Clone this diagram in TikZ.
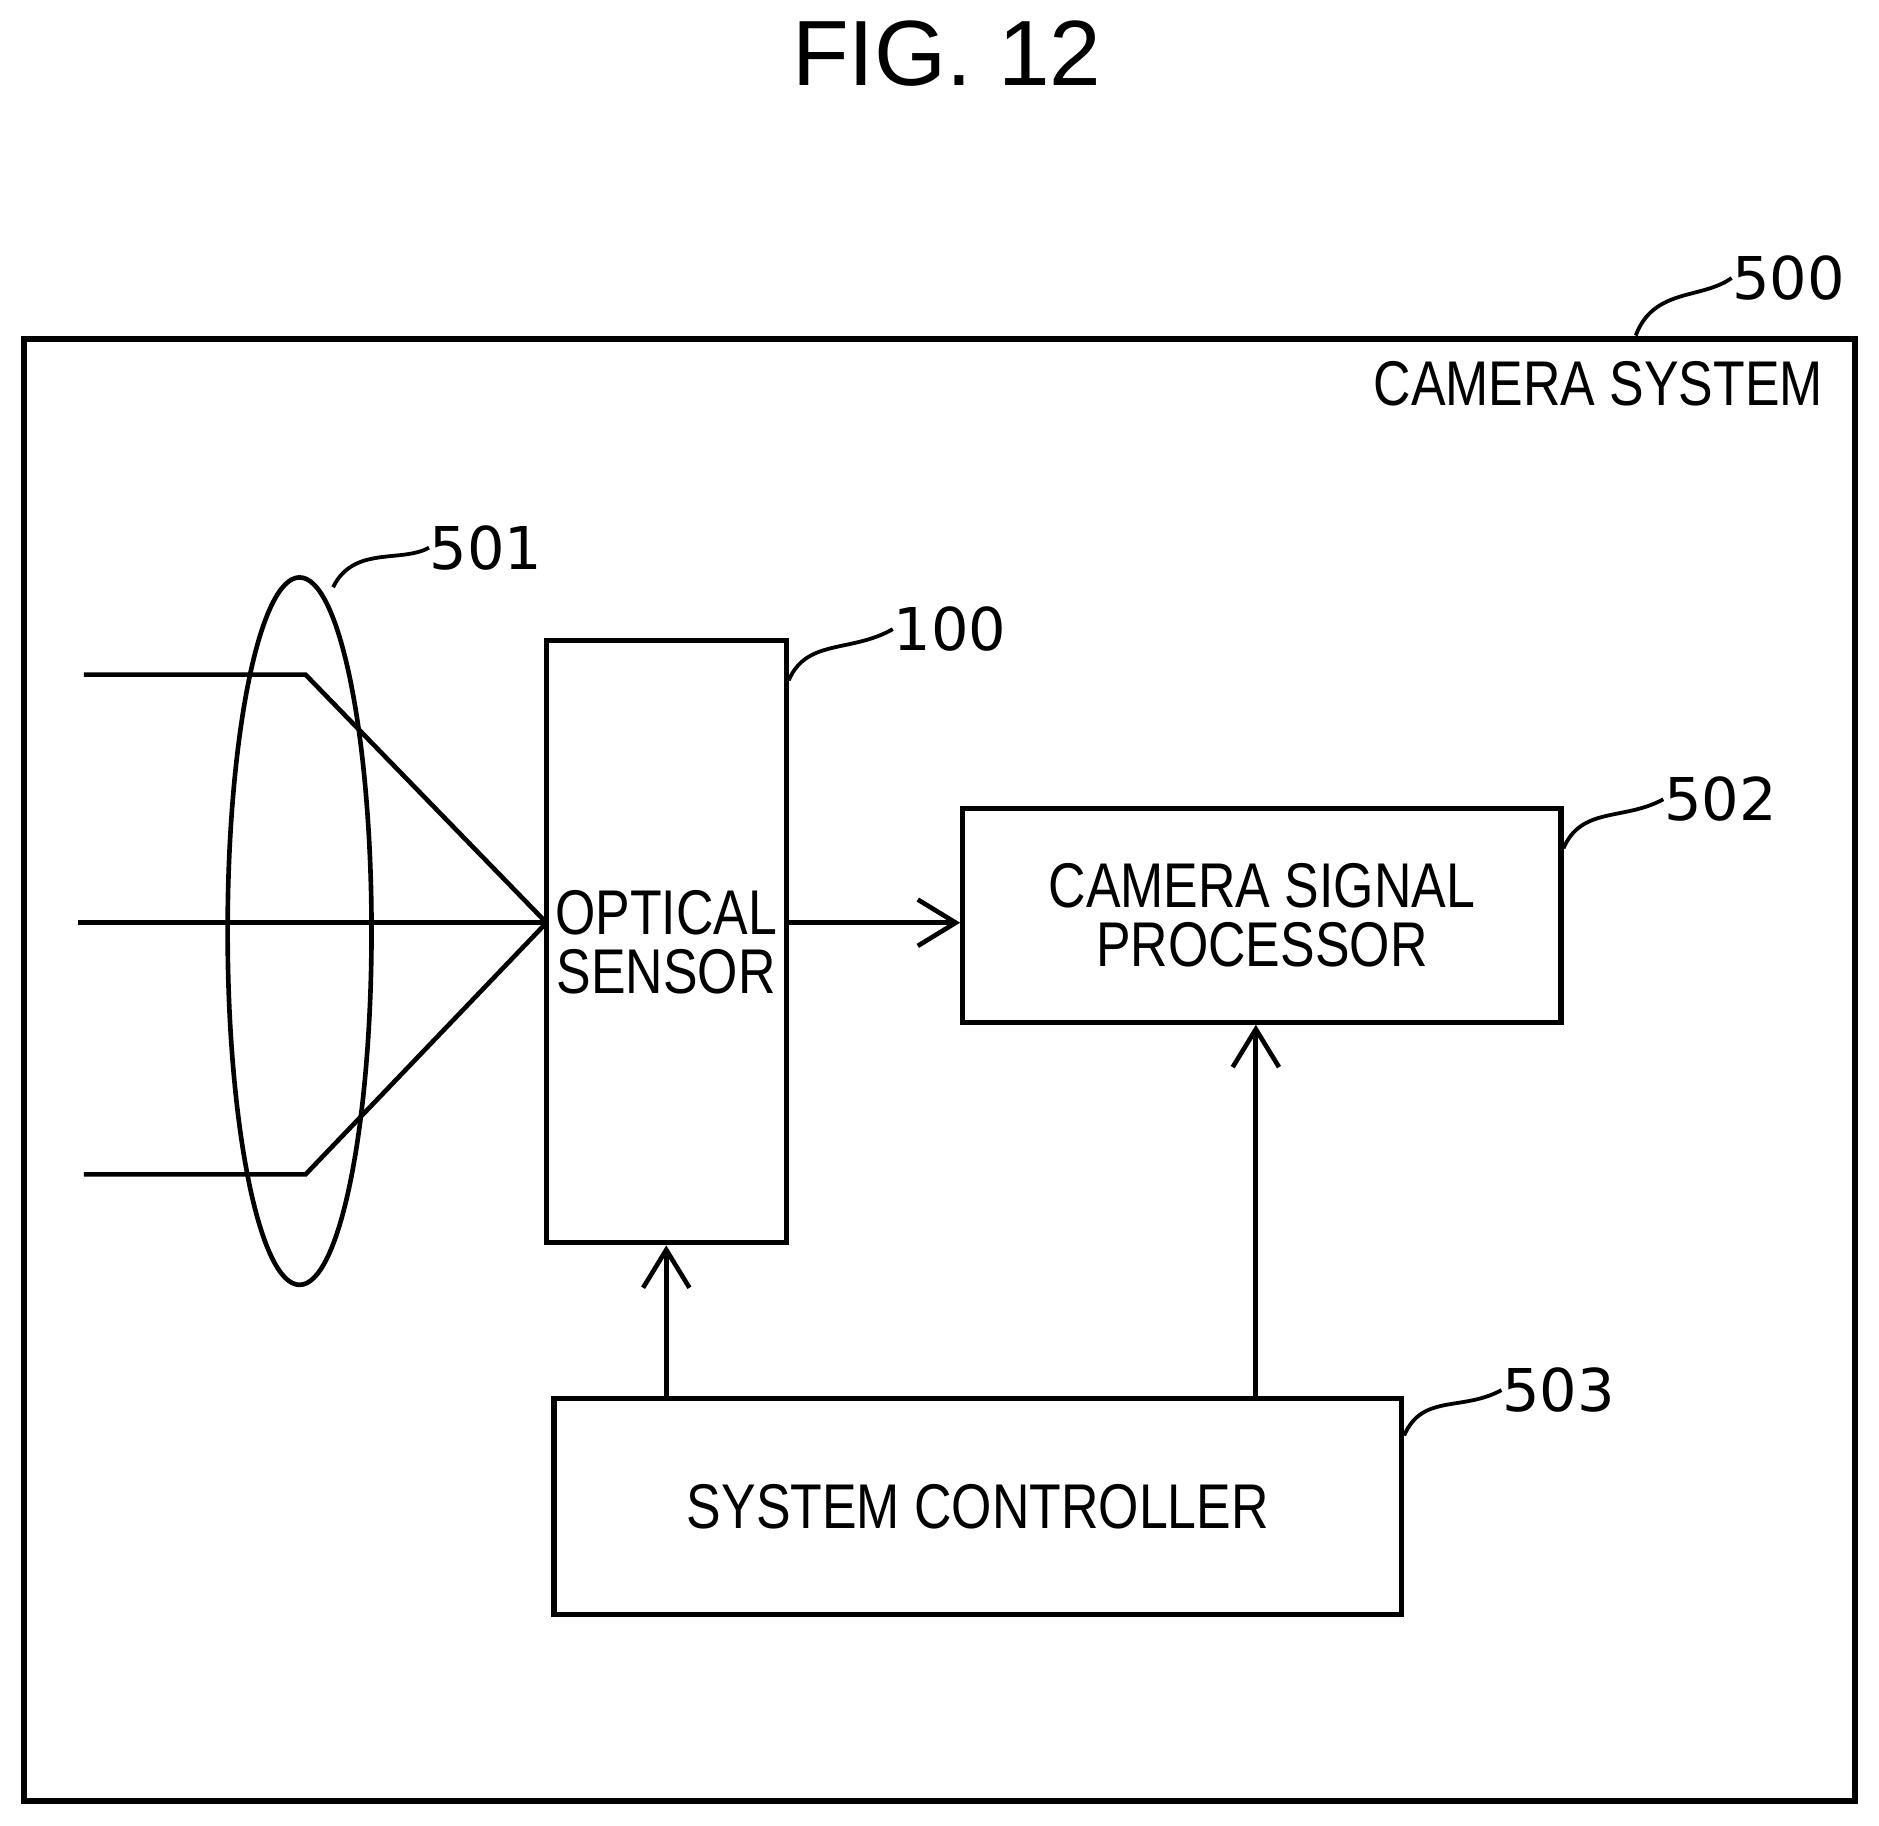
\documentclass[tikz,border=0pt]{standalone}
\usepackage{fontspec}
\setmainfont{Liberation Sans}
\newfontfamily\narrowfont{Liberation Sans}[FakeStretch=0.82]
\newfontfamily\numfont{DejaVu Sans}
\usetikzlibrary{arrows.meta,shapes.geometric}
\tikzset{
  blk/.style={draw, line width=1.2pt, inner sep=0pt, align=center, font=\narrowfont\fontsize{15}{17}\selectfont},
  sig/.style={line width=1.2pt, -{Straight Barb[length=9pt,width=11pt,line width=1.1pt]}},
  ray/.style={line width=1.1pt},
  lead/.style={line width=0.9pt},
  num/.style={font=\numfont\fontsize{14}{16}\selectfont, anchor=west, inner sep=0pt}
}
\begin{document}
\begin{tikzpicture}[x=0.01cm,y=-0.01cm]
    \useasboundingbox (0,0) rectangle (1568,1523);
    \node[font=\fontsize{22}{26}\selectfont] (title) at (790,45) {FIG. 12};

    % outer frame
    \draw[line width=1.5pt] (20,283) rectangle (1548,1503);
    \node[anchor=east, inner sep=0pt, font=\narrowfont\fontsize{15}{17}\selectfont] (sysname) at (1522,320) {CAMERA SYSTEM};
    \node[num] (n500) at (1445,232) {500};
    \draw[lead] (1365,280) .. controls (1380,240) and (1420,250) .. (n500.west);

    % lens and rays
    \node[draw, ellipse, line width=1.1pt, minimum width=1.2cm, minimum height=5.9cm, inner sep=0pt] (lens) at (250,777) {};
    \node[num] (n501) at (358,457) {501};
    \draw[lead] (278,490) .. controls (295,455) and (335,470) .. (n501.west);

    \node[blk, minimum width=2cm, minimum height=5.02cm] (sensor) at (556,786) {OPTICAL\\[-3pt]SENSOR};
    \coordinate (focus) at (456,770);
    \draw[ray] (70,563) -- (255,563) -- (focus);
    \draw[ray] (65,770) -- (focus);
    \draw[ray] (70,980) -- (255,980) -- (focus);
    \node[num] (n100) at (745,525) {100};
    \draw[lead] (sensor.north east) ++(0,35) .. controls +(15,-35) and (710,545) .. (n100.west);

    \node[blk, minimum width=4.99cm, minimum height=1.78cm] (proc) at (1053,764) {CAMERA SIGNAL\\[-3pt]PROCESSOR};
    \node[num] (n502) at (1388,667) {502};
    \draw[lead] (proc.north east) ++(0,35) .. controls +(15,-35) and (1355,685) .. (n502.west);

    \node[blk, minimum width=7.07cm, minimum height=1.8cm] (ctrl) at (816,1257) {SYSTEM CONTROLLER};
    \node[num] (n503) at (1253,1160) {503};
    \draw[lead] (ctrl.north east) ++(0,33) .. controls +(15,-35) and (1220,1178) .. (n503.west);

    % signals
    \draw[sig] (sensor.east |- focus) -- (proc.west |- focus);
    \draw[sig] (ctrl.north -| sensor) -- (sensor.south);
    \draw[sig] (ctrl.north -| 1048,0) -- (proc.south -| 1048,0);
\end{tikzpicture}
\end{document}
